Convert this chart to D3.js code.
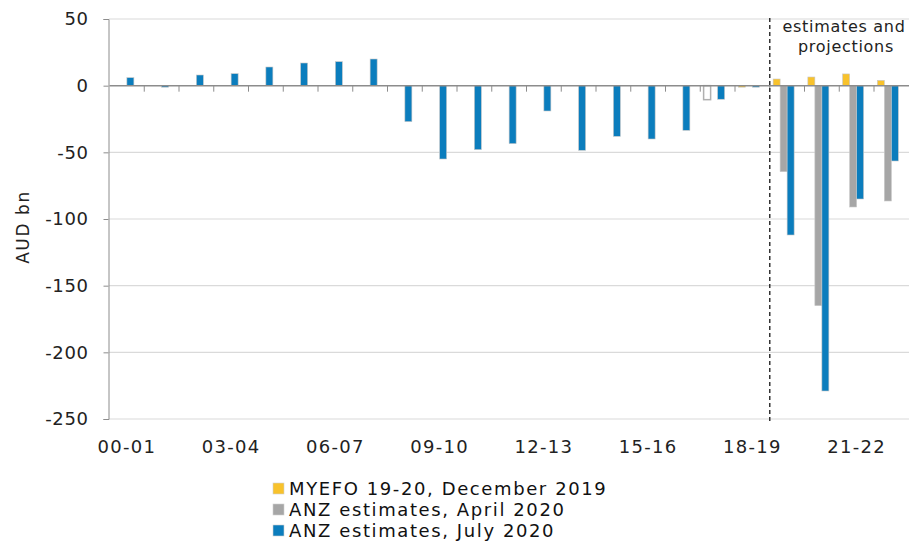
<!DOCTYPE html>
<html lang="en">
<head>
<meta charset="utf-8">
<title>Australian budget balance</title>
<script src="https://cdn.jsdelivr.net/npm/d3@7"></script>
<style>
  body { margin: 0; background: #fff; }
  svg { display: block; font-family: "DejaVu Sans", Verdana, sans-serif; }
</style>
</head>
<body>
<div id="chart"></div>
<script>
// fiscal years on the x axis
const years = ["00-01","01-02","02-03","03-04","04-05","05-06","06-07","07-08","08-09","09-10",
  "10-11","11-12","12-13","13-14","14-15","15-16","16-17","17-18","18-19","19-20","20-21","21-22","22-23"];
const tickYears = ["00-01","03-04","06-07","09-10","12-13","15-16","18-19","21-22"];

// series values (AUD bn), null = no bar
const myefo = [null,null,null,null,null,null,null,null,null,null,null,null,null,null,null,null,null,-10.5,-0.6,5,6.5,8.8,4];
const anzApril = [null,null,null,null,null,null,null,null,null,null,null,null,null,null,null,null,null,null,null,-64.5,-165,-91,-86.5];
const anzJuly = [6,-1,8,9,14,17,18,20,-27,-55,-48,-43.5,-19,-48.5,-38,-40,-33.5,-10.2,-0.7,-112,-229,-85,-56.5];

const seriesNames = ["MYEFO 19-20, December 2019", "ANZ estimates, April 2020", "ANZ estimates, July 2020"];
const seriesColors = ["#f8c22c", "#a6a6a6", "#0b7dbd"];
const yTicks = [50, 0, -50, -100, -150, -200, -250];

const width = 909, height = 541;
const svg = d3.select("#chart").append("svg")
  .attr("width", width).attr("height", height);

// scales
const x0 = d3.scaleBand().domain(years).range([109.5, 908.75]).paddingInner(0).paddingOuter(0);
// 4 slots per year, last one stays empty
const x1 = d3.scaleBand().domain([0, 1, 2, 3]).range([0, x0.bandwidth()]).paddingInner(0).paddingOuter(0.48);
const y = d3.scaleLinear().domain([-250, 50]).range([419, 19]);

// gridlines
svg.append("g").selectAll("line")
  .data(yTicks.filter(d => d !== 0))
  .join("line")
  .attr("x1", x0.range()[0]).attr("x2", width)
  .attr("y1", d => y(d)).attr("y2", d => y(d))
  .attr("stroke", "#b5b5b5").attr("stroke-width", 1.2)
  .attr("stroke-dasharray", "1,1");

// y axis
const yAxis = svg.append("g")
  .attr("transform", `translate(${x0.range()[0] - 1},0)`)
  .call(d3.axisLeft(y).tickValues(yTicks).tickSize(5).tickPadding(15).tickFormat(d => String(d)));
yAxis.select(".domain").attr("stroke", "#8c8c8c");
yAxis.selectAll(".tick line").attr("stroke", "#8c8c8c");
yAxis.selectAll(".tick text")
  .attr("font-size", 18).attr("fill", "#222")
  .attr("letter-spacing", 0.6)
  .attr("font-family", "DejaVu Sans, Verdana, sans-serif");

svg.append("text")
  .attr("transform", `translate(29,${y(-106)}) rotate(-90)`)
  .attr("text-anchor", "middle")
  .attr("font-size", 17).attr("fill", "#222")
  .attr("letter-spacing", 1.6)
  .text("AUD bn");

// bars
const data = [];
years.forEach((yr, i) => {
  [myefo, anzApril, anzJuly].forEach((s, k) => {
    if (s[i] !== null) data.push({ year: yr, k: k, value: s[i] });
  });
});

svg.append("g").selectAll("rect")
  .data(data)
  .join("rect")
  .attr("x", d => x0(d.year) + x1(d.k))
  .attr("width", x1.bandwidth())
  .attr("y", d => y(Math.max(0, d.value)))
  .attr("height", d => Math.max(1.5, Math.abs(y(d.value) - y(0))))
  .attr("fill", d => (d.k === 0 && d.year === "17-18") ? "#fff" : seriesColors[d.k])
  .attr("stroke", d => (d.k === 0 && d.year === "17-18") ? "#b0b0b0" : "#c8c8c8")
  .attr("stroke-width", d => (d.k === 0 && d.year === "17-18") ? 1.5 : 0.6);

// zero line with category ticks
svg.append("line")
  .attr("x1", x0.range()[0]).attr("x2", width)
  .attr("y1", y(0)).attr("y2", y(0))
  .attr("stroke", "#8c8c8c").attr("stroke-width", 1.5);
svg.append("g").selectAll("line")
  .data(years.slice(1))
  .join("line")
  .attr("x1", d => x0(d)).attr("x2", d => x0(d))
  .attr("y1", y(0)).attr("y2", y(0) + 6)
  .attr("stroke", "#8c8c8c");

// x labels
svg.append("g").selectAll("text")
  .data(tickYears)
  .join("text")
  .attr("x", d => x0(d) + x0.bandwidth() / 2)
  .attr("y", 453)
  .attr("text-anchor", "middle")
  .attr("font-size", 18).attr("fill", "#222")
  .attr("letter-spacing", 1.3)
  .text(d => d);

// estimates divider
const xDiv = x0("19-20");
svg.append("line")
  .attr("x1", xDiv).attr("x2", xDiv)
  .attr("y1", 18).attr("y2", 424)
  .attr("stroke", "#333").attr("stroke-width", 1.5)
  .attr("stroke-dasharray", "4,3");

const note = svg.append("text")
  .attr("text-anchor", "middle")
  .attr("font-size", 16).attr("fill", "#222")
  .attr("letter-spacing", 0.7);
note.append("tspan").attr("x", 844).attr("y", 32).text("estimates and");
note.append("tspan").attr("x", 846).attr("y", 52).text("projections");

// legend
const legend = svg.append("g").attr("transform", "translate(273,480)");
seriesNames.forEach((name, i) => {
  const row = legend.append("g").attr("transform", `translate(0,${i * 21})`);
  row.append("rect").attr("width", 11).attr("height", 11).attr("y", 3)
    .attr("fill", seriesColors[i]).attr("stroke", "#d0d0d0").attr("stroke-width", 0.6);
  row.append("text").attr("x", 16).attr("y", 15)
    .attr("font-size", 18).attr("fill", "#111")
    .attr("letter-spacing", 1.6)
    .text(name);
});
</script>
</body>
</html>
